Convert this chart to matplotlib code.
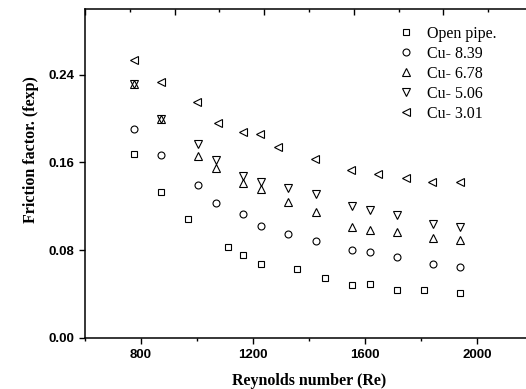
import matplotlib
matplotlib.use("Agg")
import matplotlib.pyplot as plt
from matplotlib.ticker import MultipleLocator, FixedLocator

# Reynolds numbers and measured friction factors
re_open = [776, 872, 969, 1112, 1165, 1229, 1358, 1456, 1552, 1617, 1714, 1811, 1940]
f_open = [0.168, 0.1334, 0.108, 0.0825, 0.0752, 0.0676, 0.0625, 0.0545, 0.0479, 0.0491, 0.0434, 0.0431, 0.0409]

re_cu839 = [776, 872, 1002, 1068, 1165, 1229, 1326, 1424, 1552, 1617, 1714, 1843, 1940]
f_cu839 = [0.1904, 0.167, 0.1397, 0.1227, 0.1127, 0.1015, 0.0943, 0.0885, 0.0797, 0.0779, 0.0736, 0.0676, 0.0645]

re_cu678 = [776, 872, 1002, 1068, 1163, 1229, 1326, 1424, 1552, 1617, 1714, 1843, 1940]
f_cu678 = [0.2318, 0.2, 0.1655, 0.155, 0.1415, 0.1356, 0.1243, 0.1143, 0.1009, 0.0985, 0.0964, 0.0909, 0.0888]

re_cu506 = [776, 872, 1002, 1068, 1163, 1229, 1326, 1424, 1552, 1617, 1714, 1843, 1940]
f_cu506 = [0.2318, 0.2, 0.1767, 0.1623, 0.148, 0.1425, 0.1364, 0.1313, 0.1206, 0.1161, 0.1118, 0.1037, 0.1006]

re_cu301 = [775, 870, 1000, 1075, 1165, 1225, 1290, 1420, 1550, 1645, 1745, 1840, 1940]
f_cu301 = [0.2531, 0.2334, 0.2152, 0.1961, 0.1879, 0.1855, 0.1745, 0.1631, 0.1534, 0.1495, 0.1458, 0.1418, 0.1418]

series = [
    (re_open, f_open, "s", 4.3, "Open pipe."),
    (re_cu839, f_cu839, "o", 5.0, "Cu- 8.39"),
    (re_cu678, f_cu678, "^", 5.2, "Cu- 6.78"),
    (re_cu506, f_cu506, "v", 5.2, "Cu- 5.06"),
    (re_cu301, f_cu301, "<", 5.2, "Cu- 3.01"),
]

W, H = 526, 389
fig = plt.figure(figsize=(W / 100, H / 100), dpi=100)
left, right, bottom, top = 85, 533, 337.7, 9
ax = fig.add_axes([left / W, 1 - bottom / H, (right - left) / W, (bottom - top) / H])

for x, y, m, ms, lab in series:
    ax.plot(x, y, linestyle="none", marker=m, markersize=ms, markerfacecolor="none",
            markeredgecolor="black", markeredgewidth=0.8, label=lab)

ax.set_xlim(600, 2200)
ax.set_ylim(0, 0.30)

ax.xaxis.set_major_locator(FixedLocator([800, 1200, 1600, 2000]))
ax.xaxis.set_minor_locator(FixedLocator([600, 1000, 1400, 1800, 2200]))
ax.yaxis.set_major_locator(FixedLocator([0.0, 0.08, 0.16, 0.24]))
ax.yaxis.set_major_formatter(plt.FuncFormatter(lambda v, p: f"{v:.2f}"))

ax.spines["right"].set_visible(False)
for s in ("left", "bottom", "top"):
    ax.spines[s].set_linewidth(1.1)

ax.tick_params(axis="both", which="major", direction="out", length=4.3, width=1.0, pad=3.5)
ax.tick_params(axis="x", which="minor", direction="out", length=2.3, width=1.0)
for lbl in ax.get_xticklabels() + ax.get_yticklabels():
    lbl.set_fontfamily("Liberation Sans")
    lbl.set_fontweight("bold")
    lbl.set_fontsize(9.5)

# unlabeled ticks along the top edge
ax2 = ax.twiny()
ax2.set_xlim(0, 1)
ax2.xaxis.set_major_locator(MultipleLocator(0.2))
ax2.xaxis.set_minor_locator(MultipleLocator(0.1))
ax2.tick_params(axis="x", which="major", direction="in", length=4.3, width=1.0, labeltop=False)
ax2.tick_params(axis="x", which="minor", direction="in", length=2.3, width=1.0)
for s in ("left", "right", "bottom", "top"):
    ax2.spines[s].set_visible(False)

label_font = {"family": "Liberation Serif", "weight": "bold", "size": 11.5}
ax.set_xlabel("Reynolds number (Re)", fontdict=label_font, labelpad=9)
ax.set_ylabel("Friction factor. (fexp)", fontdict=label_font)
ax.yaxis.set_label_coords(-0.103, 0.571)

leg = ax.legend(loc="upper left", bbox_to_anchor=(398 / W, 1 - 26 / H), bbox_transform=fig.transFigure,
                frameon=False, borderpad=0, borderaxespad=0, handlelength=1.0, handletextpad=0.8,
                labelspacing=0.25, prop={"family": "Liberation Serif", "size": 11.5})

fig.savefig("out.png", dpi=100)
